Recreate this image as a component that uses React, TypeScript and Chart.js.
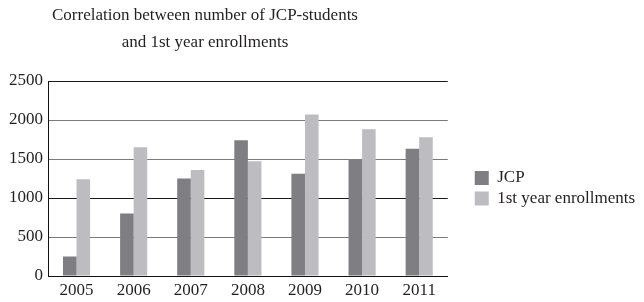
import React, { useEffect, useRef } from "react";
import { Chart, registerables } from "chart.js";

Chart.register(...registerables);

const years = ["2005", "2006", "2007", "2008", "2009", "2010", "2011"];
const jcpValues = [250, 800, 1250, 1740, 1310, 1500, 1630];
const enrollmentValues = [1240, 1650, 1360, 1470, 2070, 1880, 1780];
const seriesLabels = ["JCP", "1st year enrollments"];
const titleLines = ["Correlation between number of JCP-students", "and 1st year enrollments"];

const FONT = "'Liberation Serif', 'Times New Roman', serif";
const INK = "#231f20";

const placePlugin = {
  id: "placeBlocks",
  afterLayout(chart: any) {
    const t = chart.titleBlock;
    if (t) {
      t.left = 0;
      t.right = 410;
      t.width = 410;
    }
    const l = chart.legend;
    if (l) {
      l.left = chart.chartArea.right + 27 - l.options.labels.padding;
      l.right = chart.width;
      l.width = l.right - l.left;
      l.top = 166;
    }
  },
};

export default function App() {
  const ref = useRef<HTMLCanvasElement | null>(null);
  useEffect(() => {
    if (!ref.current) return;
    const chart = new Chart(ref.current, {
      type: "bar",
      data: {
        labels: years,
        datasets: [
          {
            label: seriesLabels[0],
            data: jcpValues,
            backgroundColor: "#7e7e83",
            borderWidth: 0,
            categoryPercentage: 0.475,
            barPercentage: 1,
          },
          {
            label: seriesLabels[1],
            data: enrollmentValues,
            backgroundColor: "#bdbdc1",
            borderWidth: 0,
            categoryPercentage: 0.475,
            barPercentage: 1,
          },
        ],
      },
      options: {
        animation: false,
        responsive: false,
        layout: { padding: { left: 0, right: 47, top: 0, bottom: 0 } },
        plugins: {
          title: {
            display: true,
            text: titleLines,
            color: INK,
            font: { family: FONT, size: 17, weight: "normal", lineHeight: "27px" },
            padding: { top: 2, bottom: 25 },
          },
          legend: {
            position: "right",
            align: "start",
            labels: {
              color: INK,
              font: { family: FONT, size: 17 },
              boxWidth: 14,
              boxHeight: 14,
              padding: 3.5,
            },
          },
          tooltip: { enabled: false },
        },
        scales: {
          x: {
            grid: { display: false, drawTicks: false },
            border: { display: true, color: "#111", width: 1 },
            ticks: { color: INK, font: { family: FONT, size: 17 }, padding: 4, maxRotation: 0 },
            afterFit: (s: any) => {
              s.height = 26;
            },
          },
          y: {
            min: 0,
            max: 2500,
            ticks: {
              stepSize: 500,
              color: INK,
              font: { family: FONT, size: 17 },
              padding: 5,
              callback: (v: any) => String(v),
            },
            grid: {
              drawTicks: false,
              color: (c: any) =>
                c.tick && (c.tick.value === 2500 || c.tick.value === 1000) ? "#1a1a1a" : "#7a7a7a",
              lineWidth: 1,
            },
            border: { display: true, color: "#111", width: 1 },
            afterFit: (s: any) => {
              s.width = 48;
            },
          },
        },
      },
      plugins: [placePlugin],
    });
    return () => chart.destroy();
  }, []);
  return (
    <div style={{ position: "fixed", left: 0, top: 0, width: 644, height: 302, background: "#fff" }}>
      <canvas ref={ref} width={644} height={302} style={{ display: "block" }} />
    </div>
  );
}
